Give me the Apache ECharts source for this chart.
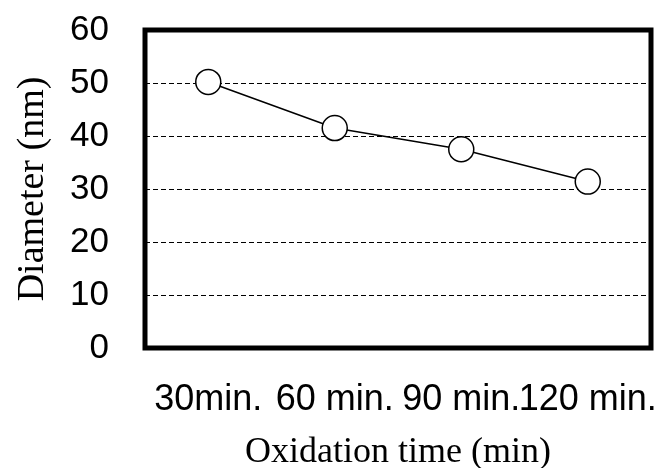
<!DOCTYPE html>
<html>
<head>
<meta charset="utf-8">
<script src="https://cdn.jsdelivr.net/npm/echarts@6/dist/echarts.min.js"></script>
<style>
  html, body { margin: 0; padding: 0; background: #fff; }
  #chart { width: 657px; height: 468px; }
</style>
</head>
<body>
<div id="chart"></div>
<script>
let categories = ['30min.', '60 min.', '90 min.', '120 min.'];
let diameters = [50.2, 41.5, 37.5, 31.4];
let yTicks = [0, 10, 20, 30, 40, 50, 60];

window.onload = function() {
    let myChart = echarts.init(document.getElementById('chart'));

    let option = {
        animation: false,
        grid: {
            left: 145,
            top: 30,
            right: 6,
            bottom: 120,
            outerBoundsMode: 'none',
            containLabel: false,
            show: true,
            borderColor: '#000',
            borderWidth: 5,
            backgroundColor: 'transparent'
        },
        xAxis: {
            type: 'category',
            data: categories,
            boundaryGap: true,
            axisLine: { show: false },
            axisTick: { show: false },
            axisLabel: {
                color: '#000',
                fontFamily: 'Liberation Sans',
                fontSize: 36,
                margin: 34,
                interval: 0
            },
            name: 'Oxidation time (min)',
            nameLocation: 'middle',
            nameGap: 87,
            nameTextStyle: {
                color: '#000',
                fontFamily: 'Liberation Serif',
                fontSize: 36
            }
        },
        yAxis: {
            type: 'value',
            min: yTicks[0],
            max: yTicks[yTicks.length - 1],
            interval: 10,
            axisLine: { show: false },
            axisTick: { show: false },
            axisLabel: {
                color: '#000',
                fontFamily: 'Liberation Sans',
                fontSize: 35,
                margin: 36
            },
            splitLine: {
                show: true,
                lineStyle: { color: '#000', width: 1.2, type: [5, 3] }
            },
            name: 'Diameter (nm)',
            nameLocation: 'middle',
            nameGap: 93,
            nameTextStyle: {
                color: '#000',
                fontFamily: 'Liberation Serif',
                fontSize: 38
            }
        },
        series: [
            {
                type: 'line',
                data: diameters,
                symbol: 'circle',
                symbolSize: 25,
                lineStyle: { color: '#000', width: 1.5 },
                itemStyle: { color: '#fff', borderColor: '#000', borderWidth: 1.5 }
            }
        ]
    };
    myChart.setOption(option);
};
</script>
</body>
</html>
